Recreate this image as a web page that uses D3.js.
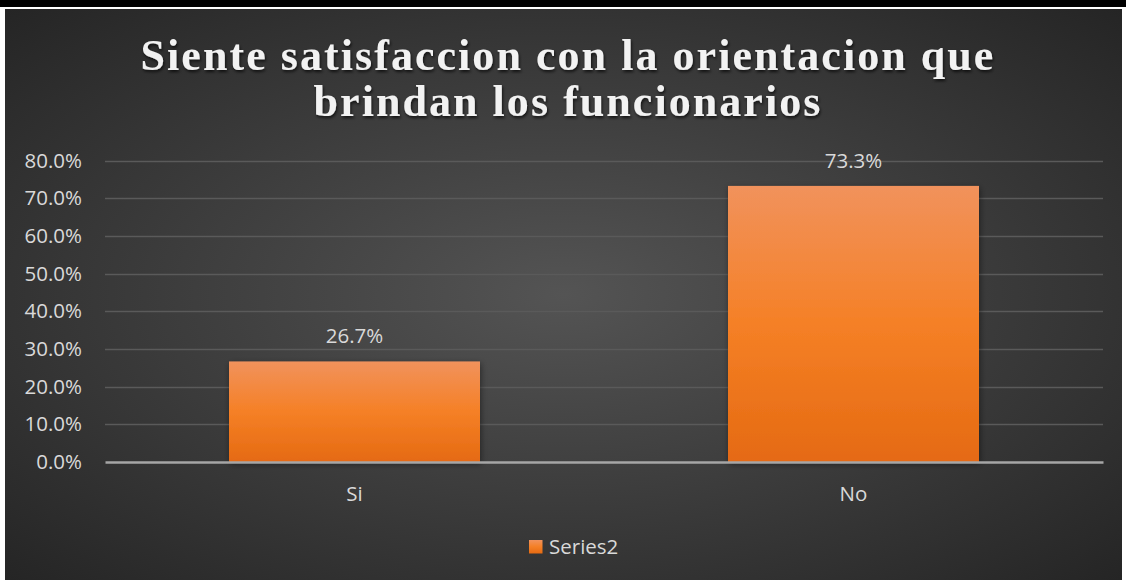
<!DOCTYPE html>
<html>
<head>
<meta charset="utf-8">
<script src="https://cdn.jsdelivr.net/npm/d3@7"></script>
<style>
  body { margin: 0; background: #ffffff; }
  svg { display: block; }
</style>
</head>
<body>
<div id="chart"></div>
<script>
// chart data
var categories = ["Si", "No"];
var values = [0.267, 0.733];
var seriesName = "Series2";
var tickValues = [0, 0.1, 0.2, 0.3, 0.4, 0.5, 0.6, 0.7, 0.8];
var titleLines = ["Siente satisfaccion con la orientacion que", "brindan los funcionarios"];

var width = 1126, height = 580;
var labelFont = "'Open Sans', sans-serif";
var labelSize = "20.5px";

var svg = d3.select("#chart").append("svg")
    .attr("width", width)
    .attr("height", height);

var defs = svg.append("defs");

// dark radial background like the office style
var bg = defs.append("radialGradient")
    .attr("id", "bgGrad")
    .attr("cx", "50%").attr("cy", "50%").attr("r", "75%");
bg.append("stop").attr("offset", "0%").attr("stop-color", "#545454");
bg.append("stop").attr("offset", "100%").attr("stop-color", "#222222");

var barGrad = defs.append("linearGradient")
    .attr("id", "barGrad")
    .attr("x1", 0).attr("y1", 0).attr("x2", 0).attr("y2", 1);
barGrad.append("stop").attr("offset", "0%").attr("stop-color", "#f1925c");
barGrad.append("stop").attr("offset", "50%").attr("stop-color", "#f58026");
barGrad.append("stop").attr("offset", "100%").attr("stop-color", "#e56a12");

var shadow = defs.append("filter").attr("id", "barShadow")
    .attr("x", "-10%").attr("y", "-10%").attr("width", "130%").attr("height", "130%");
shadow.append("feDropShadow")
    .attr("dx", 1).attr("dy", 2).attr("stdDeviation", 3)
    .attr("flood-color", "#000").attr("flood-opacity", 0.45);

var titleShadow = defs.append("filter").attr("id", "titleShadow")
    .attr("x", "-5%").attr("y", "-20%").attr("width", "110%").attr("height", "150%");
titleShadow.append("feDropShadow")
    .attr("dx", 1).attr("dy", 2).attr("stdDeviation", 1.5)
    .attr("flood-color", "#000").attr("flood-opacity", 0.7);

// frame: black strip at top, chart panel below
svg.append("rect").attr("x", 0).attr("y", 0).attr("width", width).attr("height", 7)
    .attr("fill", "#000");
svg.append("rect").attr("x", 5).attr("y", 9).attr("width", width - 9).attr("height", height - 9)
    .attr("fill", "url(#bgGrad)");

var margin = {left: 105, right: 23};

var x = d3.scaleBand()
    .domain(categories)
    .range([margin.left, width - margin.right])
    .paddingInner(0.497)
    .paddingOuter(0.2485);

var y = d3.scaleLinear()
    .domain([0, 0.8])
    .range([462, 160.7]);

// gridlines
svg.append("g")
    .selectAll("line")
    .data(tickValues.slice(1))
    .enter()
    .append("line")
    .attr("x1", margin.left)
    .attr("x2", width - margin.right)
    .attr("y1", function(d) { return Math.round(y(d)) + 0.5; })
    .attr("y2", function(d) { return Math.round(y(d)) + 0.5; })
    .attr("stroke", "#5a5a5a")
    .attr("stroke-width", 1.5);

// y axis labels
var yAxis = d3.axisLeft(y)
    .tickValues(tickValues)
    .tickFormat(d3.format(".1%"))
    .tickSize(0)
    .tickPadding(0);

var yG = svg.append("g")
    .attr("transform", "translate(82,0)")
    .call(yAxis);
yG.select(".domain").remove();
yG.selectAll("text")
    .attr("fill", "#d9d9d9")
    .attr("font-family", labelFont)
    .attr("font-size", labelSize);

// bars
svg.append("g")
    .selectAll("rect")
    .data(values)
    .enter()
    .append("rect")
    .attr("x", function(d, i) { return x(categories[i]); })
    .attr("y", function(d) { return y(d); })
    .attr("width", x.bandwidth())
    .attr("height", function(d) { return y(0) - y(d); })
    .attr("fill", "url(#barGrad)")
    .attr("filter", "url(#barShadow)");

// value labels
svg.append("g")
    .selectAll("text")
    .data(values)
    .enter()
    .append("text")
    .attr("x", function(d, i) { return x(categories[i]) + x.bandwidth() / 2; })
    .attr("y", function(d) { return y(d) - 18; })
    .attr("text-anchor", "middle")
    .attr("fill", "#d9d9d9")
    .attr("font-family", labelFont)
    .attr("font-size", labelSize)
    .text(function(d) { return d3.format(".1%")(d); });

// x axis line + labels
var xAxis = d3.axisBottom(x).tickSize(0).tickPadding(0);
var xG = svg.append("g")
    .attr("transform", "translate(0," + y(0) + ")")
    .call(xAxis);
xG.select(".domain")
    .attr("stroke", "#a6a6a6")
    .attr("stroke-width", 2.5);
xG.selectAll("text")
    .attr("dy", 0)
    .attr("y", 39)
    .attr("fill", "#d9d9d9")
    .attr("font-family", labelFont)
    .attr("font-size", labelSize);

// title
var title = svg.append("text")
    .attr("x", 568)
    .attr("text-anchor", "middle")
    .attr("fill", "#f2f2f2")
    .attr("font-family", "'Liberation Serif', 'Times New Roman', serif")
    .attr("font-weight", "bold")
    .attr("font-size", "44px")
    .attr("letter-spacing", "2.05px")
    .attr("filter", "url(#titleShadow)");
title.selectAll("tspan")
    .data(titleLines)
    .enter()
    .append("tspan")
    .attr("x", 568)
    .attr("y", function(d, i) { return 69.5 + i * 46.5; })
    .text(function(d) { return d; });

// legend
var legend = svg.append("g").attr("transform", "translate(529,540)");
legend.append("rect")
    .attr("width", 13.5).attr("height", 13.5)
    .attr("fill", "url(#barGrad)");
legend.append("text")
    .attr("x", 20)
    .attr("y", 13.5)
    .attr("fill", "#d9d9d9")
    .attr("font-family", labelFont)
    .attr("font-size", labelSize)
    .text(seriesName);
</script>
</body>
</html>
